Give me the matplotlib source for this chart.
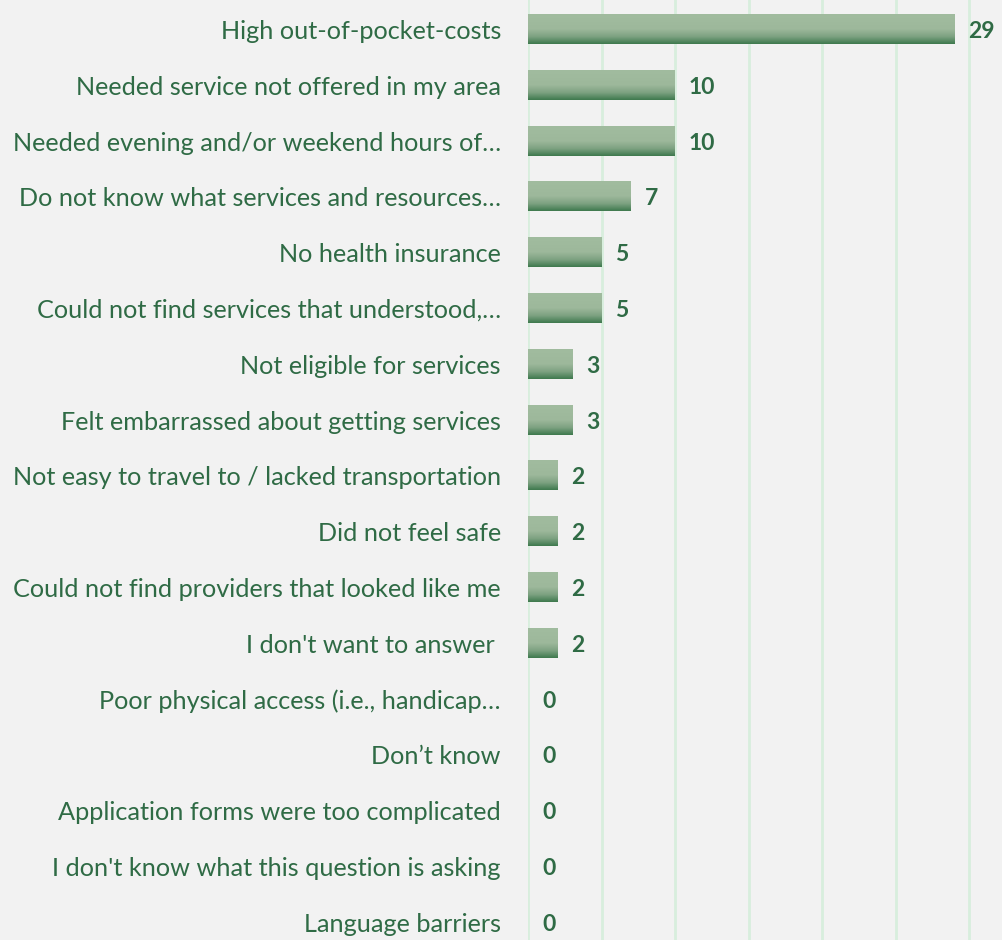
import numpy as np
import matplotlib
matplotlib.use("Agg")
import matplotlib.pyplot as plt
from matplotlib.colors import LinearSegmentedColormap

categories = [
    "High out-of-pocket-costs",
    "Needed service not offered in my area",
    "Needed evening and/or weekend hours of\u2026",
    "Do not know what services and resources\u2026",
    "No health insurance",
    "Could not find services that understood,\u2026",
    "Not eligible for services",
    "Felt embarrassed about getting services",
    "Not easy to travel to / lacked transportation",
    "Did not feel safe",
    "Could not find providers that looked like me",
    "I don't want to answer ",
    "Poor physical access (i.e., handicap\u2026",
    "Don\u2019t know",
    "Application forms were too complicated",
    "I don't know what this question is asking",
    "Language barriers",
]
counts = [29, 10, 10, 7, 5, 5, 3, 3, 2, 2, 2, 2, 0, 0, 0, 0, 0]

bg = "#F2F2F2"
txt_col = "#2F6B45"
grid_col = "#D8EEDD"

plt.rcParams['font.family'] = ['Lato', 'DejaVu Sans']

fig = plt.figure(figsize=(10.02, 9.4), dpi=100, facecolor=bg)
W, H = 1002, 940
x0, x1 = 528, 998
ax = fig.add_axes([x0 / W, 0, (x1 - x0) / W, 1])
ax.set_facecolor(bg)

step = 55.8
top = 29.5

for gx in range(0, 35, 5):
    ax.axvline(gx, color=grid_col, lw=2, zorder=0)

# vertical gradient for the bars: light on top, darker green at bottom
cmap = LinearSegmentedColormap.from_list(
    "bar", [(0, "#A1BC9F"), (0.5, "#9DB89B"), (0.75, "#7EA282"), (1, "#3F7A4E")])
grad = np.linspace(0, 1, 100).reshape(-1, 1)
h = 0.52
for i, v in enumerate(counts):
    if v > 0:
        ax.imshow(grad, cmap=cmap, aspect="auto", interpolation="bilinear",
                  extent=[0, v, i + h / 2, i - h / 2], zorder=2)
    ax.annotate(str(v), (v, i), xytext=(14, -2), textcoords="offset pixels",
                ha="left", va="center", fontsize=16.5, fontweight="bold",
                color=txt_col, annotation_clip=False)

ax.set_ylim((H - top) / step, -top / step)
ax.set_xlim(0, (x1 - x0) / 14.7)
ax.set_yticks(range(len(categories)))
ax.set_yticklabels(categories, fontsize=18.2, color=txt_col)
ax.tick_params(axis="y", length=0, pad=19.5)
ax.set_xticks([])
for s in ax.spines.values():
    s.set_visible(False)

fig.savefig("out.png", dpi=100, facecolor=bg)
